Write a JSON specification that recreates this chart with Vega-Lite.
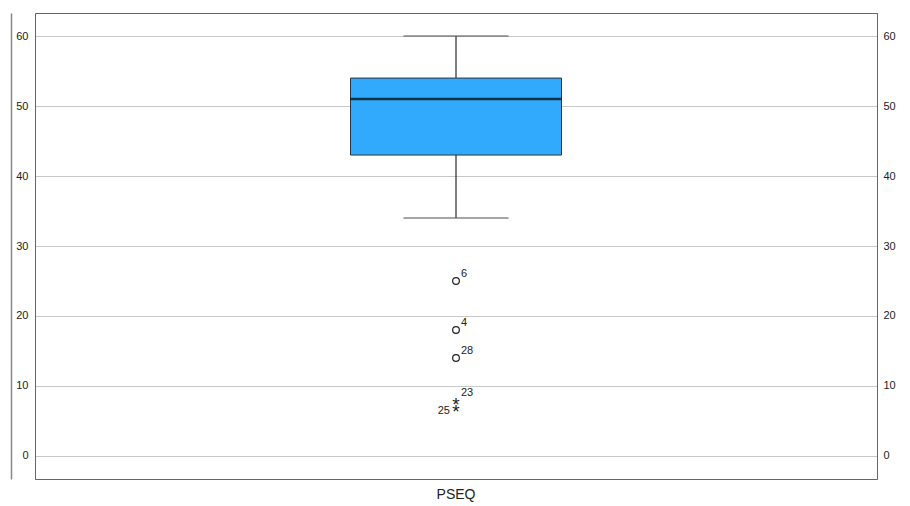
{
  "$schema": "https://vega.github.io/schema/vega-lite/v6.json",
  "autosize": "none",
  "width": 842,
  "height": 466,
  "padding": {"left": 35, "top": 13, "right": 33, "bottom": 27},
  "background": "white",
  "config": {
    "view": {"stroke": "#666666", "strokeWidth": 1},
    "font": "Liberation Sans",
    "axis": {"labelFont": "Liberation Sans", "labelColor": "#222222"}
  },
  "datasets": {
    "summary": [
      {"var": "PSEQ", "lower": 34, "q1": 43, "median": 51, "q3": 54, "upper": 60}
    ],
    "outliers": [
      {"var": "PSEQ", "value": 25, "id": "6", "kind": "outlier"},
      {"var": "PSEQ", "value": 18, "id": "4", "kind": "outlier"},
      {"var": "PSEQ", "value": 14, "id": "28", "kind": "outlier"},
      {"var": "PSEQ", "value": 8, "id": "23", "kind": "extreme"},
      {"var": "PSEQ", "value": 7, "id": "25", "kind": "extreme"}
    ]
  },
  "encoding": {
    "x": {
      "field": "var",
      "type": "nominal",
      "scale": {"type": "band", "paddingInner": 0, "paddingOuter": 0},
      "axis": {
        "title": null,
        "labelAngle": 0,
        "ticks": false,
        "domain": false,
        "labelFontSize": 14,
        "labelPadding": 8,
        "labelColor": "#222222"
      }
    }
  },
  "layer": [
    {
      "data": {"name": "summary"},
      "mark": {"type": "rule", "color": "#000000", "strokeWidth": 1},
      "encoding": {
        "y": {
          "field": "lower",
          "type": "quantitative",
          "scale": {"domain": [-3.3, 63.3], "nice": false, "zero": false},
          "axis": {
            "title": null,
            "orient": "left",
            "values": [0, 10, 20, 30, 40, 50, 60],
            "ticks": false,
            "labelFontSize": 11,
            "labelPadding": 7,
            "grid": true,
            "gridColor": "#c8c8c8",
            "gridWidth": 1,
            "domain": true,
            "domainColor": "#666666"
          }
        },
        "y2": {"field": "upper"}
      }
    },
    {
      "data": {"name": "summary"},
      "mark": {"type": "tick", "color": "#555555", "size": 105, "thickness": 1.5},
      "encoding": {"y": {"field": "lower", "type": "quantitative", "axis": null}}
    },
    {
      "data": {"name": "summary"},
      "mark": {"type": "tick", "color": "#555555", "size": 105, "thickness": 1.5},
      "encoding": {"y": {"field": "upper", "type": "quantitative", "axis": null}}
    },
    {
      "data": {"name": "summary"},
      "mark": {"type": "bar", "size": 211, "color": "#31AAFE", "stroke": "#333333", "strokeWidth": 1},
      "encoding": {
        "y": {"field": "q1", "type": "quantitative", "axis": null},
        "y2": {"field": "q3"}
      }
    },
    {
      "data": {"name": "summary"},
      "mark": {"type": "tick", "color": "#000000", "size": 211, "thickness": 2.5},
      "encoding": {"y": {"field": "median", "type": "quantitative", "axis": null}}
    },
    {
      "data": {"name": "outliers"},
      "transform": [{"filter": "datum.kind === 'outlier'"}],
      "mark": {"type": "point", "shape": "circle", "filled": false, "size": 45, "color": "#222222", "strokeWidth": 1.2, "opacity": 1},
      "encoding": {"y": {"field": "value", "type": "quantitative", "axis": null}}
    },
    {
      "data": {"name": "outliers"},
      "transform": [{"filter": "datum.kind === 'extreme'"}],
      "mark": {"type": "text", "text": "*", "fontSize": 19, "color": "#222222", "baseline": "middle", "align": "center", "dy": 5},
      "encoding": {"y": {"field": "value", "type": "quantitative", "axis": null}}
    },
    {
      "data": {"name": "outliers"},
      "transform": [{"filter": "datum.id !== '25'"}],
      "mark": {"type": "text", "align": "left", "baseline": "bottom", "dx": 5, "dy": -2, "fontSize": 11, "color": "#222222"},
      "encoding": {
        "y": {"field": "value", "type": "quantitative", "axis": null},
        "text": {"field": "id"}
      }
    },
    {
      "data": {"name": "outliers"},
      "transform": [{"filter": "datum.id === '25'"}],
      "mark": {"type": "text", "align": "right", "baseline": "middle", "dx": -6, "dy": 4, "fontSize": 11, "color": "#222222"},
      "encoding": {
        "y": {"field": "value", "type": "quantitative", "axis": null},
        "text": {"field": "id"}
      }
    },
    {
      "data": {"name": "summary"},
      "mark": {"type": "rule", "opacity": 0},
      "encoding": {
        "y": {
          "field": "q1",
          "type": "quantitative",
          "axis": {
            "title": null,
            "orient": "left",
            "labels": false,
            "ticks": false,
            "grid": false,
            "domain": true,
            "domainColor": "#888888",
            "domainWidth": 1.5,
            "offset": 24
          }
        }
      }
    },
    {
      "data": {"name": "summary"},
      "mark": {"type": "rule", "opacity": 0},
      "encoding": {
        "y": {
          "field": "median",
          "type": "quantitative",
          "axis": {
            "title": null,
            "orient": "right",
            "values": [0, 10, 20, 30, 40, 50, 60],
            "ticks": false,
            "labelFontSize": 11,
            "labelPadding": 6,
            "grid": false,
            "domain": true,
            "domainColor": "#666666"
          }
        }
      }
    }
  ],
  "resolve": {"axis": {"y": "independent"}}
}
